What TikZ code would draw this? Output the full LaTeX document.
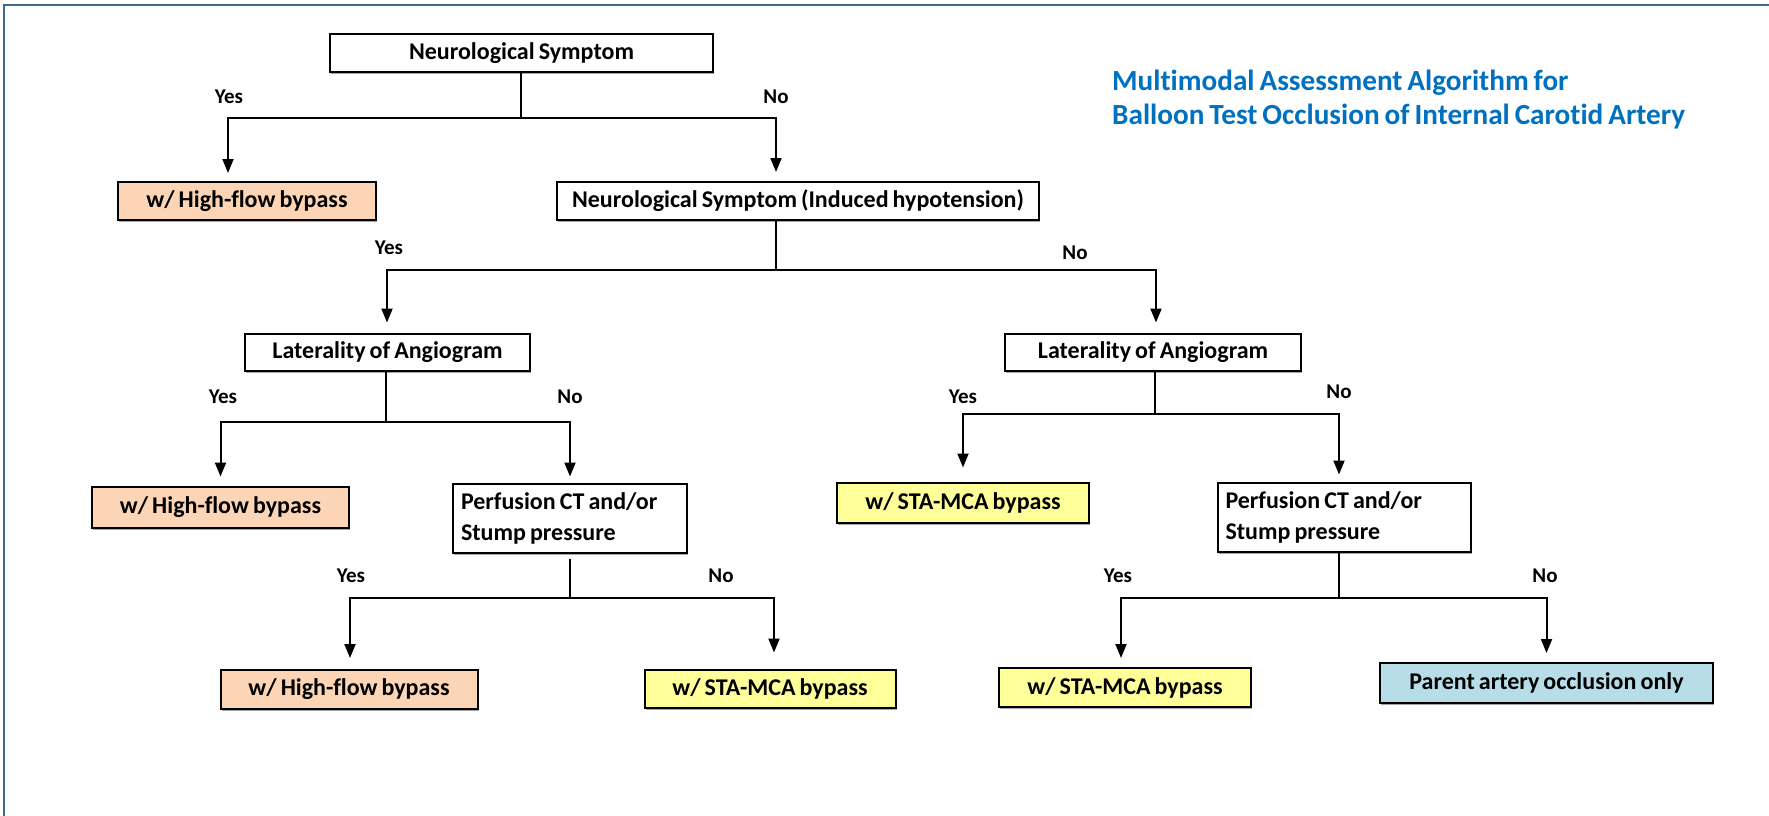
\documentclass[tikz,border=0pt]{standalone}
\usepackage{fontspec}
\setmainfont{Carlito}[Ligatures=NoCommon, WordSpace=0.75]
\usetikzlibrary{arrows.meta,shadows}
\definecolor{orangebox}{HTML}{FBD5B5}
\definecolor{yellowbox}{HTML}{FFFF99}
\definecolor{bluebox}{HTML}{B7DEE8}
\definecolor{titleblue}{HTML}{0070C0}
\definecolor{framecol}{HTML}{44658E}
\tikzset{
  box/.style={draw=black, line width=2pt, fill=white, inner sep=0pt,
    font=\fontsize{24}{31}\selectfont\bfseries,
    drop shadow={shadow xshift=1pt, shadow yshift=-2pt, fill=black, opacity=0.35}},
  lbl/.style={font=\fontsize{21}{24}\selectfont\bfseries},
  conn/.style={line width=2pt},
  arr/.style={line width=2pt, -{Triangle[length=14pt,width=11pt]}},
}
\begin{document}
\begin{tikzpicture}[x=1pt,y=-1pt]
\useasboundingbox (0,0) rectangle (1769,816);
% frame
\draw[framecol, line width=2.5pt] (4,816) -- (4,5) -- (1769,5);
% title
\node[anchor=west, align=left, text=titleblue, inner sep=0pt,
      font=\fontsize{29.2}{34}\selectfont\bfseries] (title) at (1112,100)
  {Multimodal Assessment Algorithm for\\Balloon Test Occlusion of Internal Carotid Artery};
% nodes
\node[box, minimum width=383pt, minimum height=38pt] (n1) at (521.5,53) {Neurological Symptom};
\node[box, fill=orangebox, minimum width=258pt, minimum height=38pt] (n2) at (247,201) {w/ High-flow bypass};
\node[box, minimum width=482pt, minimum height=38pt] (n3) at (798,201) {Neurological Symptom (Induced hypotension)};
\node[box, minimum width=285pt, minimum height=37pt] (latL) at (387.5,352) {Laterality of Angiogram};
\node[box, minimum width=296pt, minimum height=37pt] (latR) at (1153,352) {Laterality of Angiogram};
\node[box, fill=orangebox, minimum width=257pt, minimum height=41pt] (hfM) at (220.5,507) {w/ High-flow bypass};
\node[box, minimum width=234pt, minimum height=69pt, text width=218pt, align=flush left] (perfL) at (570,518)
  {Perfusion CT and/or\\Stump pressure};
\node[box, fill=yellowbox, minimum width=252pt, minimum height=40pt] (staM) at (963,502.5) {w/ STA-MCA bypass};
\node[box, minimum width=253pt, minimum height=69pt, text width=237pt, align=flush left] (perfR) at (1344,517)
  {Perfusion CT and/or\\Stump pressure};
\node[box, fill=orangebox, minimum width=257pt, minimum height=39pt] (hfB) at (349,689.5) {w/ High-flow bypass};
\node[box, fill=yellowbox, minimum width=251pt, minimum height=38pt] (staBL) at (770,688.5) {w/ STA-MCA bypass};
\node[box, fill=yellowbox, minimum width=252pt, minimum height=39pt] (staBR) at (1125,687.5) {w/ STA-MCA bypass};
\node[box, fill=bluebox, minimum width=333pt, minimum height=40pt] (par) at (1546.5,683) {Parent artery occlusion only};
% junction coordinates
\coordinate (j1) at (521,118);
\coordinate (j2) at (776,270);
\coordinate (j3) at (386,422);
\coordinate (j4) at (1155,414);
\coordinate (j5) at (570,598);
\coordinate (j6) at (1339,598);
% connectors
\draw[conn] (n1.south -| j1) -- (j1);
\draw[arr, shorten >=8pt] (j1) -| ([xshift=-19pt]n2.north);
\draw[arr, shorten >=9pt] (j1) -| ([xshift=-22pt]n3.north);
\draw[conn] (n3.south -| j2) -- (j2);
\draw[arr, shorten >=10pt] (j2) -| ([xshift=-0.5pt]latL.north);
\draw[arr, shorten >=10pt] (j2) -| ([xshift=3pt]latR.north);
\draw[conn] (latL.south -| j3) -- (j3);
\draw[arr, shorten >=9pt] (j3) -| (hfM.north);
\draw[arr, shorten >=6pt] (j3) -| (perfL.north);
\draw[conn] (latR.south -| j4) -- (j4);
\draw[arr, shorten >=14pt] (j4) -| (staM.north);
\draw[arr, shorten >=7pt] (j4) -| ([xshift=-5pt]perfR.north);
\draw[conn] ([yshift=-5pt]perfL.south -| j5) -- (j5);
\draw[arr, shorten >=11pt] (j5) -| ([xshift=1pt]hfB.north);
\draw[arr, shorten >=16pt] (j5) -| ([xshift=4pt]staBL.north);
\draw[conn] (perfR.south -| j6) -- (j6);
\draw[arr, shorten >=9pt] (j6) -| ([xshift=-4pt]staBR.north);
\draw[arr, shorten >=9pt] (j6) -| (par.north);
% labels
\node[lbl] (y1) at (229,97) {Yes};
\node[lbl] (no1) at (776,97) {No};
\node[lbl] (y2) at (389,248) {Yes};
\node[lbl] (no2) at (1075,253) {No};
\node[lbl] (y3) at (223,397) {Yes};
\node[lbl] (no3) at (570,397) {No};
\node[lbl] (y4) at (963,397) {Yes};
\node[lbl] (no4) at (1339,392) {No};
\node[lbl] (y5) at (351,576) {Yes};
\node[lbl] (no5) at (721,576) {No};
\node[lbl] (y6) at (1118,576) {Yes};
\node[lbl] (no6) at (1545,576) {No};
\end{tikzpicture}
\end{document}
